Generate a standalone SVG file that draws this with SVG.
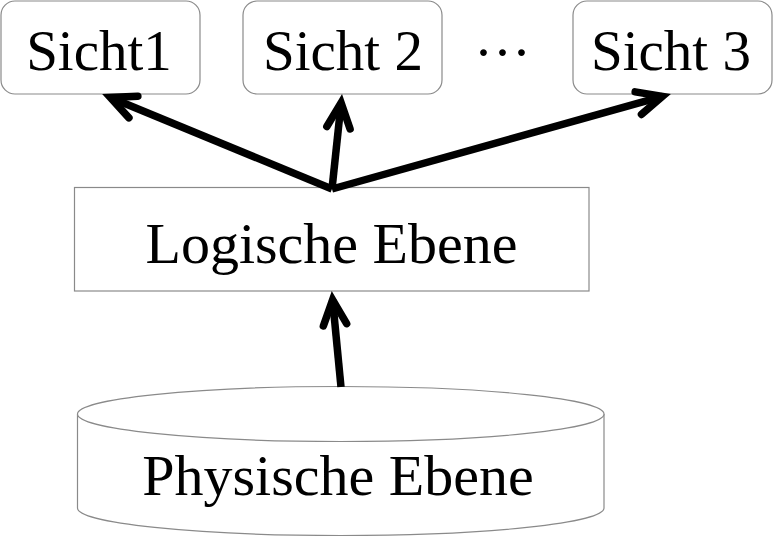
<svg xmlns="http://www.w3.org/2000/svg" width="773" height="537" viewBox="0 0 773 537">
<style>
.box{fill:#fff;stroke:#8a8a8a;stroke-width:1.2}
.lbl{font-family:"Liberation Serif","Times New Roman",serif;fill:#000;text-anchor:middle}
.edge{stroke:#000;stroke-width:7.5;fill:none;stroke-linecap:butt}
</style>
<defs>
<marker id="head" markerUnits="userSpaceOnUse" markerWidth="60" markerHeight="60" viewBox="-40 -30 60 60" refX="0" refY="0" orient="auto" overflow="visible">
<path d="M -25,-11.7 L 0,0 L -25,11.7" fill="none" stroke="#000" stroke-width="7.5" stroke-linecap="round" stroke-linejoin="miter"/>
</marker>
</defs>
<rect width="773" height="537" fill="#fff"/>
<g id="sicht1">
<rect class="box" x="1" y="1" width="199" height="93" rx="14"/>
<text class="lbl" x="99" y="70" font-size="57">Sicht1</text>
</g>
<g id="sicht2">
<rect class="box" x="243" y="1" width="199" height="93" rx="14"/>
<text class="lbl" x="343" y="70" font-size="57">Sicht 2</text>
</g>
<g id="dots">
<text class="lbl" x="502.5" y="72" font-size="57">···</text>
</g>
<g id="sicht3">
<rect class="box" x="573" y="1" width="199" height="93" rx="14"/>
<text class="lbl" x="671" y="70" font-size="57">Sicht 3</text>
</g>
<g id="logisch">
<rect class="box" x="74.5" y="187.5" width="514.5" height="103.5"/>
<text class="lbl" x="331.5" y="263" font-size="58">Logische Ebene</text>
</g>
<g id="physisch">
<path class="box" d="M77.5,414 A263.25,27.5 0 0 1 604,414 L604,508 A263.25,27.5 0 0 1 77.5,508 Z"/>
<path class="box" fill="none" d="M77.5,414 A263.25,27.5 0 0 0 604,414"/>
<text class="lbl" x="338" y="495" font-size="58">Physische Ebene</text>
</g>
<g id="connectors">
<line class="edge" x1="332" y1="189" x2="110.3" y2="97.5" marker-end="url(#head)"/>
<line class="edge" x1="332" y1="189" x2="341.1" y2="102.9" marker-end="url(#head)"/>
<line class="edge" x1="332" y1="189" x2="662.4" y2="96.4" marker-end="url(#head)"/>
<line class="edge" x1="341" y1="387" x2="332.6" y2="299.9" marker-end="url(#head)"/>
</g>
</svg>
